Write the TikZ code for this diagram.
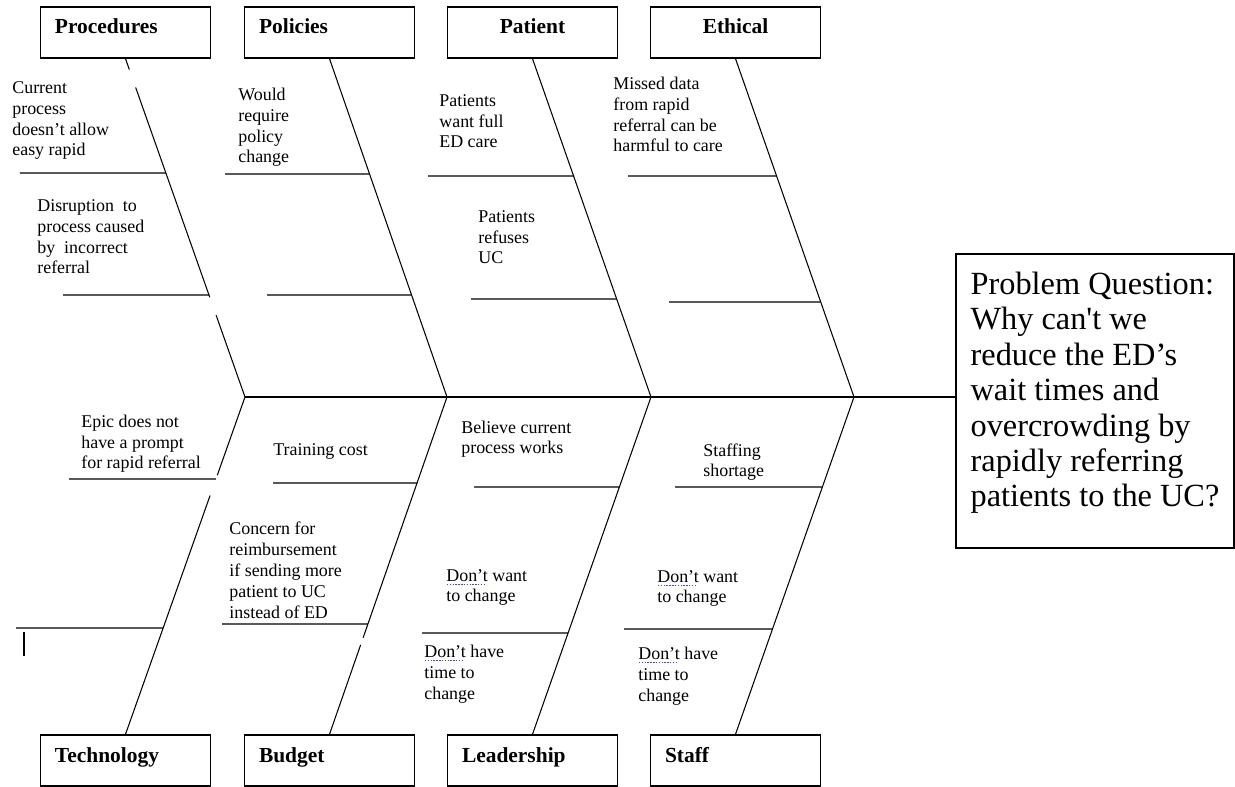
\documentclass[tikz,border=0pt]{standalone}
\usepackage{fontspec}
\setmainfont{Liberation Serif}
\usepackage{xcolor}
\definecolor{spellblue}{RGB}{70,70,225}
\tikzset{
  cat/.style={draw, line width=0.8pt, minimum width=3.40cm, minimum height=1.02cm, inner xsep=0.29cm, text width=2.82cm, align=left, text height=0.33cm, text depth=0.27cm, font=\fontsize{12.2pt}{14pt}\selectfont\bfseries},
  catc/.style={cat, align=center},
  note/.style={anchor=base west, inner sep=0pt, align=left, font=\fontsize{10.2pt}{11.9pt}\selectfont},
  probbox/.style={draw, line width=0.8pt, minimum width=5.56cm, minimum height=5.88cm, align=left, text height=4.50cm, text depth=0.26cm, font=\fontsize{18.4pt}{20.2pt}\selectfont},
  bone/.style={line width=0.6pt},
  rib/.style={line width=0.6pt}
}
% dotted spell-check mark under a word
\newsavebox{\spellbox}
\newcommand{\spellchk}[1]{\sbox{\spellbox}{#1}\rlap{\usebox{\spellbox}}\raisebox{-2pt}{\color{spellblue}\leaders\hbox to 1.6pt{\hss\rule{0.8pt}{0.5pt}\hss}\hskip\wd\spellbox}}
% rib: bone from #1 to #2, starts at (#3,#4) and runs right to the bone
\newcommand{\rib}[4]{\draw[rib] (#3,#4) -- (intersection of #1--#2 and #3,#4--30,#4);}

\begin{document}
\begin{tikzpicture}[x=1cm, y=1cm]
    \useasboundingbox (0,0) rectangle (24.70,-15.74);

    \node[cat] (proc) at (2.51,-0.65) {Procedures};
    \node[cat] (poli) at (6.59,-0.65) {Policies};
    \node[catc] (pati) at (10.65,-0.65) {Patient};
    \node[catc] (ethi) at (14.71,-0.65) {Ethical};
    \node[cat] (tech) at (2.51,-15.21) {Technology};
    \node[cat] (budg) at (6.59,-15.21) {Budget};
    \node[cat] (lead) at (10.65,-15.21) {Leadership};
    \node[cat] (staf) at (14.71,-15.21) {Staff};

    \node[probbox] (prob) at (21.90,-8.02) {Problem Question:\\Why can\textquotesingle t we\\reduce the ED’s\\wait times and\\overcrowding by\\rapidly referring\\patients to the UC?};

    \coordinate (j1) at (4.90,-7.94);
    \coordinate (j2) at (8.94,-7.94);
    \coordinate (j3) at (13.02,-7.94);
    \coordinate (j4) at (17.08,-7.94);

    % spine and bones
    \draw[bone] (j1) -- (j1 -| prob.west);
    \draw[bone, dash pattern=on 0.23cm off 0.38cm on 4.45cm off 0.38cm on 4cm] (proc.south) -- (j1);
    \draw[bone] (poli.south) -- (j2);
    \draw[bone] (pati.south) -- (j3);
    \draw[bone] (ethi.south) -- (j4);
    \draw[bone, dash pattern=on 1.66cm off 0.43cm on 6cm] (j1) -- (tech.north);
    \draw[bone, dash pattern=on 5.10cm off 0.15cm on 4cm] (j2) -- (budg.north);
    \draw[bone] (j3) -- (lead.north);
    \draw[bone] (j4) -- (staf.north);

    % ribs
    \rib{proc.south}{j1}{0.40}{-3.46}
    \rib{proc.south}{j1}{1.26}{-5.90}
    \rib{poli.south}{j2}{4.50}{-3.48}
    \rib{poli.south}{j2}{5.34}{-5.90}
    \rib{pati.south}{j3}{8.56}{-3.52}
    \rib{pati.south}{j3}{9.42}{-5.98}
    \rib{ethi.south}{j4}{12.56}{-3.52}
    \rib{ethi.south}{j4}{13.38}{-6.04}
    \rib{j1}{tech.north}{1.38}{-9.58}
    \rib{j1}{tech.north}{0.32}{-12.56}
    \rib{j2}{budg.north}{5.46}{-9.66}
    \rib{j2}{budg.north}{4.44}{-12.48}
    \rib{j3}{lead.north}{9.48}{-9.74}
    \rib{j3}{lead.north}{8.44}{-12.66}
    \rib{j4}{staf.north}{13.50}{-9.74}
    \rib{j4}{staf.north}{12.48}{-12.58}

    % causes (placed at the baseline of their last line)
    \node[note] (procA) at (0.24,-3.12) {Current\\process\\doesn’t allow\\easy rapid};
    \node[note] (procB) at (0.74,-5.48) {Disruption\ \ to\\process caused\\by\ \ incorrect\\referral};
    \node[note] (poliA) at (4.76,-3.26) {Would\\require\\policy\\change};
    \node[note] (patiA) at (8.78,-2.96) {Patients\\want full\\ED care};
    \node[note] (patiB) at (9.56,-5.28) {Patients\\refuses\\UC};
    \node[note] (ethiA) at (12.26,-3.04) {Missed data\\from rapid\\referral can be\\harmful to care};
    \node[note] (techA) at (1.62,-9.38) {Epic does not\\have a prompt\\for rapid referral};
    \node[note] (budgA) at (5.46,-9.12) {Training cost};
    \node[note] (budgB) at (4.58,-12.36) {Concern for\\reimbursement\\if sending more\\patient to UC\\instead of ED};
    \node[note] (leadA) at (9.22,-9.08) {Believe current\\process works};
    \node[note] (leadB) at (8.92,-12.04) {\spellchk{Don’t} want\\to change};
    \node[note] (leadC) at (8.48,-13.98) {\spellchk{Don’t} have\\time to\\change};
    \node[note] (stafA) at (14.06,-9.54) {Staffing\\shortage};
    \node[note] (stafB) at (13.14,-12.06) {\spellchk{Don’t} want\\to change};
    \node[note] (stafC) at (12.76,-14.02) {\spellchk{Don’t} have\\time to\\change};

    % stray caret
    \draw[line width=0.7pt] (0.48,-12.64) -- (0.48,-13.12);
\end{tikzpicture}
\end{document}
